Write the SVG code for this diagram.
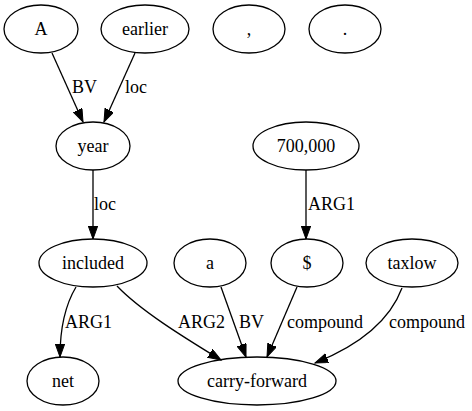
<svg xmlns="http://www.w3.org/2000/svg" width="472" height="411" viewBox="0 0 472 411">
<style>
.n ellipse{fill:none;stroke:#000;stroke-width:1.3}
text{font-family:'Liberation Serif','Times New Roman',serif;font-size:18px;fill:#000}
.n text{text-anchor:middle}
.e path{fill:none;stroke:#000;stroke-width:1.3;marker-end:url(#arr)}
</style>
<defs>
<marker id="arr" markerUnits="userSpaceOnUse" markerWidth="14" markerHeight="10" refX="13" refY="4.7" orient="auto">
<path d="M0,0 L13,4.7 L0,9.4 z" fill="#000" stroke="#000" stroke-width="1"/>
</marker>
</defs>
<rect width="472" height="411" fill="#fff"/>
<g id="A" class="n"><ellipse cx="41" cy="29" rx="37" ry="24"/><text x="41" y="35">A</text></g>
<g id="earlier" class="n"><ellipse cx="145" cy="29" rx="44" ry="24"/><text x="145" y="35">earlier</text></g>
<g id="comma" class="n"><ellipse cx="249" cy="29" rx="36" ry="24"/><text x="249" y="35">,</text></g>
<g id="period" class="n"><ellipse cx="345" cy="29" rx="36" ry="24"/><text x="345" y="35">.</text></g>
<g id="year" class="n"><ellipse cx="93" cy="146" rx="37" ry="24"/><text x="93" y="152">year</text></g>
<g id="n700000" class="n"><ellipse cx="306" cy="146" rx="53" ry="24"/><text x="306" y="152">700,000</text></g>
<g id="included" class="n"><ellipse cx="93" cy="263" rx="54" ry="24"/><text x="93" y="269">included</text></g>
<g id="a" class="n"><ellipse cx="210" cy="263" rx="36" ry="24"/><text x="210" y="269">a</text></g>
<g id="dollar" class="n"><ellipse cx="307" cy="263" rx="36" ry="24"/><text x="307" y="269">$</text></g>
<g id="taxlow" class="n"><ellipse cx="412" cy="263" rx="46" ry="24"/><text x="412" y="269">taxlow</text></g>
<g id="net" class="n"><ellipse cx="63" cy="381" rx="36" ry="24"/><text x="63" y="387">net</text></g>
<g id="carry-forward" class="n"><ellipse cx="257" cy="381" rx="79" ry="24"/><text x="257" y="387">carry-forward</text></g>
<g id="edges" class="e">
<path d="M52,53 L83,122"/><text x="72" y="93">BV</text>
<path d="M135,53 L104,122"/><text x="125" y="93">loc</text>
<path d="M93,170 L93,239"/><text x="94" y="210">loc</text>
<path d="M306,170 L306,239"/><text x="308" y="210">ARG1</text>
<path d="M76,287 C64,307 60,330 60,357"/><text x="65" y="328">ARG1</text>
<path d="M117,286 C140,310 180,335 221,360"/><text x="178" y="328">ARG2</text>
<path d="M221,287 L246,357"/><text x="239" y="328">BV</text>
<path d="M297,287 L267,357"/><text x="287" y="328">compound</text>
<path d="M402,288 C390,320 360,345 315,363"/><text x="389" y="328">compound</text>
</g>
</svg>
